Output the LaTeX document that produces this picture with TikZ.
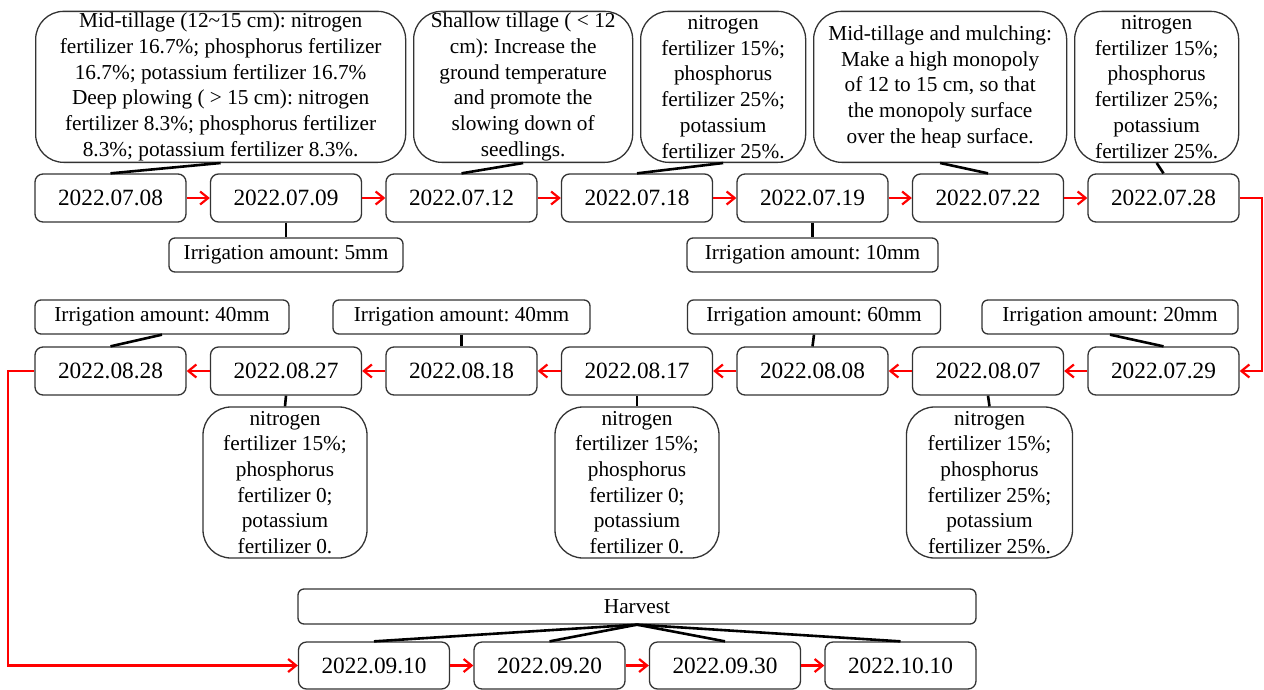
\documentclass[tikz,border=0pt]{standalone}
\usepackage{fontspec}
\setmainfont{Liberation Serif}
\usetikzlibrary{positioning,arrows.meta}
\frenchspacing

\begin{document}
\begin{tikzpicture}[
        x=1pt, y=-1pt,
        node distance=23.2pt,
    ]

    \tikzstyle{datebox} = [rectangle, rounded corners=8pt, draw=black!80, line width=1.3pt,
                           minimum width=151pt, minimum height=48pt, inner sep=0pt,
                           font=\fontsize{23.3}{28}\selectfont]
    \tikzstyle{notebox} = [rectangle, rounded corners=28pt, draw=black!80, line width=1.3pt,
                           minimum height=151pt, inner sep=0pt, align=center,
                           font=\fontsize{21.3}{25.7}\selectfont]
    \tikzstyle{irrbox} = [rectangle, rounded corners=6pt, draw=black!80, line width=1.3pt,
                          minimum height=34pt, inner sep=0pt,
                          font=\fontsize{21.3}{25.7}\selectfont]
    \tikzstyle{link} = [line width=2.6pt]
    \tikzstyle{flow} = [draw=red, line width=2.2pt, -{Straight Barb[length=8pt,width=13pt,line width=2.2pt]}]

    \useasboundingbox (0,0) rectangle (1264,689);

    % Dates, first row
    \node[datebox] (d0708) at (110.5,198) {2022.07.08};
    \node[datebox, right=of d0708] (d0709) {2022.07.09};
    \node[datebox, right=of d0709] (d0712) {2022.07.12};
    \node[datebox, right=of d0712] (d0718) {2022.07.18};
    \node[datebox, right=of d0718] (d0719) {2022.07.19};
    \node[datebox, right=of d0719] (d0722) {2022.07.22};
    \node[datebox, right=of d0722] (d0728) {2022.07.28};

    % Dates, second row
    \node[datebox, below=123.7pt of d0728] (d0729) {2022.07.29};
    \node[datebox, left=of d0729] (d0807) {2022.08.07};
    \node[datebox, left=of d0807] (d0808) {2022.08.08};
    \node[datebox, left=of d0808] (d0817) {2022.08.17};
    \node[datebox, left=of d0817] (d0818) {2022.08.18};
    \node[datebox, left=of d0818] (d0827) {2022.08.27};
    \node[datebox, left=of d0827] (d0828) {2022.08.28};

    % Dates, harvest row
    \node[datebox, minimum height=47pt] (d0910) at (374,665.5) {2022.09.10};
    \node[datebox, minimum height=47pt, right=of d0910] (d0920) {2022.09.20};
    \node[datebox, minimum height=47pt, right=of d0920] (d0930) {2022.09.30};
    \node[datebox, minimum height=47pt, right=of d0930] (d1010) {2022.10.10};
    \node[irrbox, minimum width=678pt, minimum height=35pt] (harvest) at (637,606.5) {Harvest};

    % Tillage and fertilizer notes
    \node[notebox, minimum width=370pt, anchor=south west] (t1) at (35,163)
        {Mid-tillage (12\textasciitilde15 cm): nitrogen\\
         fertilizer 16.7\%; phosphorus fertilizer\\
         16.7\%; potassium fertilizer 16.7\%\\
         Deep plowing ( > 15 cm): nitrogen\\
         fertilizer 8.3\%; phosphorus fertilizer\\
         8.3\%; potassium fertilizer 8.3\%.};
    \node[notebox, minimum width=219pt, right=6.7pt of t1] (t2)
        {Shallow tillage ( < 12\\ cm): Increase the\\ ground temperature\\
         and promote the\\ slowing down of\\ seedlings.};
    \node[notebox, minimum width=165pt, right=6.7pt of t2] (t3)
        {nitrogen\\ fertilizer 15\%;\\ phosphorus\\ fertilizer 25\%;\\
         potassium\\ fertilizer 25\%.};
    \node[notebox, minimum width=253pt, right=6.7pt of t3] (t4)
        {Mid-tillage and mulching:\\ Make a high monopoly\\ of 12 to 15 cm, so that\\
         the monopoly surface\\ over the heap surface.};
    \node[notebox, minimum width=164pt, right=6.7pt of t4] (t5)
        {nitrogen\\ fertilizer 15\%;\\ phosphorus\\ fertilizer 25\%;\\
         potassium\\ fertilizer 25\%.};

    \node[notebox, minimum width=164pt, below=10.7pt of d0827, xshift=-1pt] (f0827)
        {nitrogen\\ fertilizer 15\%;\\ phosphorus\\ fertilizer 0;\\
         potassium\\ fertilizer 0.};
    \node[notebox, minimum width=164pt, below=10.7pt of d0817] (f0817)
        {nitrogen\\ fertilizer 15\%;\\ phosphorus\\ fertilizer 0;\\
         potassium\\ fertilizer 0.};
    \node[notebox, minimum width=166pt, below=10.7pt of d0807, xshift=1.5pt] (f0807)
        {nitrogen\\ fertilizer 15\%;\\ phosphorus\\ fertilizer 25\%;\\
         potassium\\ fertilizer 25\%.};

    % Irrigation
    \node[irrbox, minimum width=234pt, below=14.7pt of d0709] (i5) {Irrigation amount: 5mm};
    \node[irrbox, minimum width=251pt, below=14.7pt of d0719] (i10) {Irrigation amount: 10mm};
    \node[irrbox, minimum width=256pt, above=11.7pt of d0729, xshift=-53.5pt] (i20) {Irrigation amount: 20mm};
    \node[irrbox, minimum width=253pt, above=11.7pt of d0808, xshift=1.5pt] (i60) {Irrigation amount: 60mm};
    \node[irrbox, minimum width=257pt, above=11.7pt of d0818] (i40b) {Irrigation amount: 40mm};
    \node[irrbox, minimum width=254pt, above=11.7pt of d0828, xshift=51.5pt] (i40a) {Irrigation amount: 40mm};

    % Links
    \draw[link] (t1.south) -- (d0708.north);
    \draw[link] (t2.south) -- (d0712.north);
    \draw[link] (t3.south) -- (d0718.north);
    \draw[link] (t4.south) -- (d0722.north);
    \draw[link] (t5.south) -- (d0728.north);
    \draw[link] (d0709.south) -- (i5.north);
    \draw[link] (d0719.south) -- (i10.north);
    \draw[link] (i20.south) -- (d0729.north);
    \draw[link] (i60.south) -- (d0808.north);
    \draw[link] (i40b.south) -- (d0818.north);
    \draw[link] (i40a.south) -- (d0828.north);
    \draw[link] (d0827.south) -- (f0827.north);
    \draw[link] (d0817.south) -- (f0817.north);
    \draw[link] (d0807.south) -- (f0807.north);
    \foreach \d in {d0910,d0920,d0930,d1010}
        \draw[link] (harvest.south) -- (\d.north);

    % Arrows
    \draw[flow] (d0708) -- (d0709);
    \draw[flow] (d0709) -- (d0712);
    \draw[flow] (d0712) -- (d0718);
    \draw[flow] (d0718) -- (d0719);
    \draw[flow] (d0719) -- (d0722);
    \draw[flow] (d0722) -- (d0728);
    \draw[flow] (d0728.east) -- ++(22,0) |- (d0729.east);
    \draw[flow] (d0729) -- (d0807);
    \draw[flow] (d0807) -- (d0808);
    \draw[flow] (d0808) -- (d0817);
    \draw[flow] (d0817) -- (d0818);
    \draw[flow] (d0818) -- (d0827);
    \draw[flow] (d0827) -- (d0828);
    \draw[flow] (d0828.west) -- ++(-26,0) |- (d0910.west);
    \draw[flow] (d0910) -- (d0920);
    \draw[flow] (d0920) -- (d0930);
    \draw[flow] (d0930) -- (d1010);

    \end{tikzpicture}
\end{document}
